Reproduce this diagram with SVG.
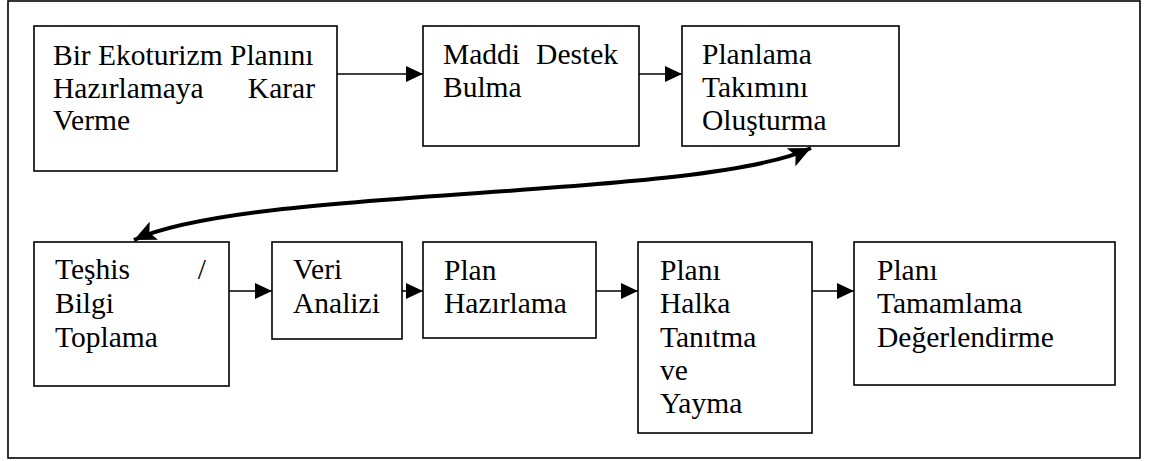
<svg xmlns="http://www.w3.org/2000/svg" width="1149" height="461" viewBox="0 0 1149 461">
<style>
.box{fill:#fff;stroke:#000;stroke-width:1.6}
text{font-family:'Liberation Serif','Times New Roman','DejaVu Serif',serif;font-size:29.5px;fill:#000}
.c{fill:none;stroke:#000;stroke-width:1.6}
.cv{fill:none;stroke:#000;stroke-width:4}
</style>
<defs>
<marker id="ah" markerUnits="userSpaceOnUse" markerWidth="18" markerHeight="16" refX="17" refY="8" orient="auto">
<path d="M0,0 L17,8 L0,16 Z" fill="#000"/>
</marker>
<marker id="bh" markerUnits="userSpaceOnUse" markerWidth="24" markerHeight="20" refX="22" refY="10" orient="auto-start-reverse">
<path d="M0,0 L22,10 L0,20 L5,10 Z" fill="#000"/>
</marker>
</defs>
<rect x="8" y="1" width="1132" height="457" fill="#fff" stroke="#000" stroke-width="1.6"/>
<g id="connectors">
<line class="c" x1="337" y1="74" x2="423" y2="74" marker-end="url(#ah)"/>
<line class="c" x1="639" y1="74" x2="682" y2="74" marker-end="url(#ah)"/>
<line class="c" x1="229" y1="291" x2="272" y2="291" marker-end="url(#ah)"/>
<line class="c" x1="402" y1="291" x2="423" y2="291" marker-end="url(#ah)"/>
<line class="c" x1="596" y1="291" x2="638" y2="291" marker-end="url(#ah)"/>
<line class="c" x1="812" y1="291" x2="854" y2="291" marker-end="url(#ah)"/>
<path class="cv" d="M134,240 C250,186 700,200 811,148" marker-start="url(#bh)" marker-end="url(#bh)"/>
</g>
<g id="n1">
<rect class="box" x="34" y="26" width="303" height="145"/>
<text x="53" y="65">Bir Ekoturizm Planını</text>
<text x="53" y="97.5">Hazırlamaya</text>
<text x="315" y="97.5" text-anchor="end">Karar</text>
<text x="53" y="130">Verme</text>
</g>
<g id="n2">
<rect class="box" x="423" y="26" width="216" height="120"/>
<text x="443" y="64">Maddi</text>
<text x="618" y="64" text-anchor="end">Destek</text>
<text x="443" y="97">Bulma</text>
</g>
<g id="n3">
<rect class="box" x="682" y="26" width="217" height="120"/>
<text x="702" y="64">Planlama</text>
<text x="702" y="97">Takımını</text>
<text x="702" y="130">Oluşturma</text>
</g>
<g id="n4">
<rect class="box" x="34" y="242" width="195" height="144"/>
<text x="55" y="279">Teşhis</text>
<text x="206" y="279" text-anchor="end">/</text>
<text x="55" y="313">Bilgi</text>
<text x="55" y="347">Toplama</text>
</g>
<g id="n5">
<rect class="box" x="272" y="242" width="130" height="97"/>
<text x="293" y="279">Veri</text>
<text x="293" y="313">Analizi</text>
</g>
<g id="n6">
<rect class="box" x="423" y="242" width="173" height="96"/>
<text x="444" y="280">Plan</text>
<text x="444" y="313">Hazırlama</text>
</g>
<g id="n7">
<rect class="box" x="638" y="242" width="174" height="191"/>
<text x="660" y="280">Planı</text>
<text x="660" y="313">Halka</text>
<text x="660" y="347">Tanıtma</text>
<text x="660" y="380">ve</text>
<text x="660" y="413">Yayma</text>
</g>
<g id="n8">
<rect class="box" x="854" y="242" width="261" height="143"/>
<text x="877" y="280">Planı</text>
<text x="877" y="313">Tamamlama</text>
<text x="877" y="347">Değerlendirme</text>
</g>
</svg>
